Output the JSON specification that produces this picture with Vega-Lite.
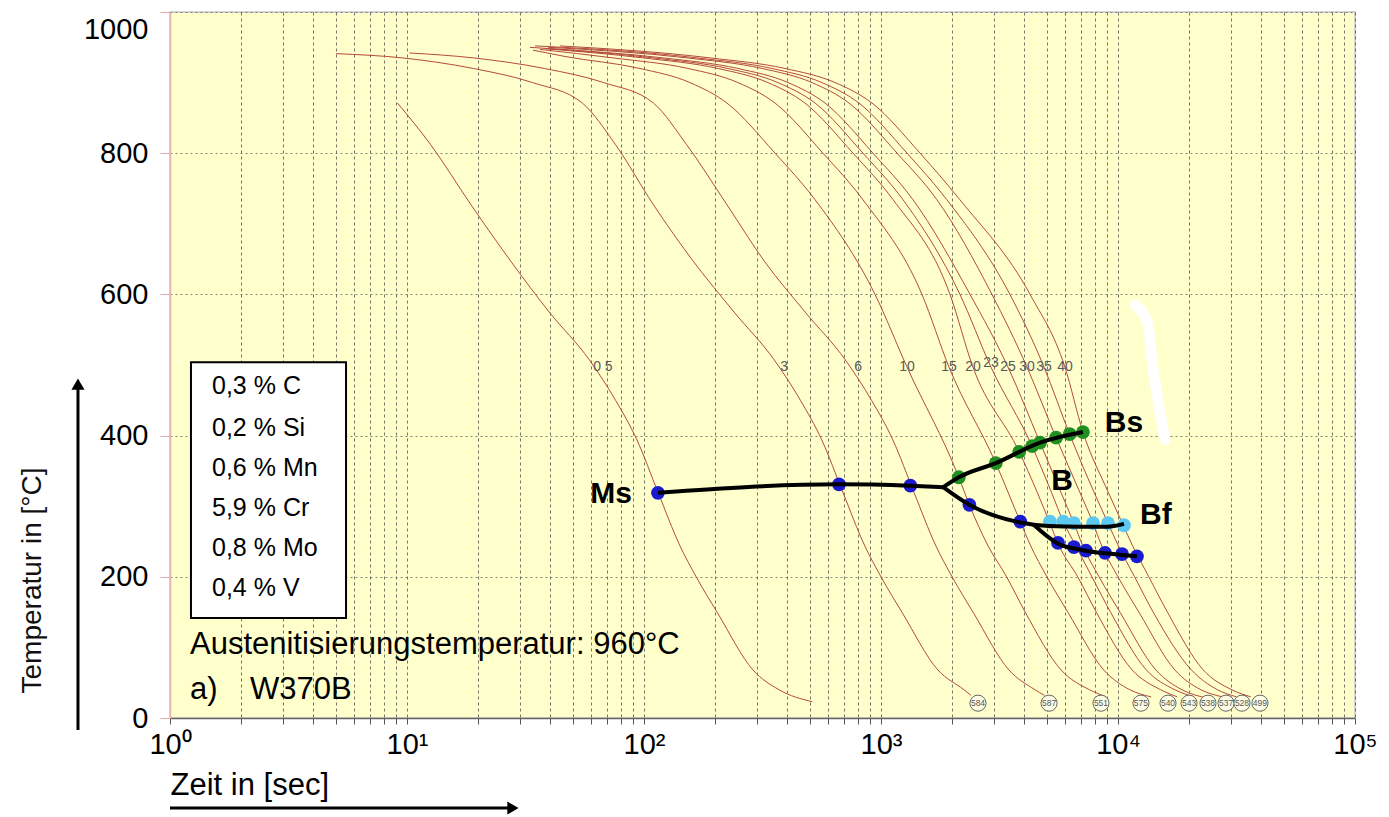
{
 "$schema": "https://vega.github.io/schema/vega-lite/v6.json",
 "width": 1185, "height": 706,
 "autosize": {"type": "none"},
 "padding": {"left": 170, "top": 12, "right": 34, "bottom": 99},
 "background": "white",
 "config": {"font": "Liberation Sans", "view": {"fill": "#FFFFCC", "stroke": "#c8c8c8", "strokeWidth": 1.5}},
 "datasets": {
  "curves": [
   {"c":"0.5","t":9.12,"T":871},{"c":"0.5","t":12.59,"T":812},{"c":"0.5","t":18.62,"T":727},{"c":"0.5","t":27.54,"T":646},{"c":"0.5","t":39.81,"T":575},{"c":"0.5","t":58.88,"T":507},{"c":"0.5","t":75.86,"T":450},{"c":"0.5","t":93.33,"T":394},{"c":"0.5","t":114.8,"T":319},{"c":"0.5","t":141.3,"T":245},{"c":"0.5","t":166,"T":200},{"c":"0.5","t":204.2,"T":149},{"c":"0.5","t":288.4,"T":68},{"c":"0.5","t":371.5,"T":40},{"c":"0.5","t":512.9,"T":23},
   {"c":"3","t":5.012,"T":941},{"c":"3","t":9.55,"T":935},{"c":"3","t":19.05,"T":920},{"c":"3","t":33.88,"T":900},{"c":"3","t":54.95,"T":871},{"c":"3","t":75.86,"T":812},{"c":"3","t":109.6,"T":727},{"c":"3","t":162.2,"T":646},{"c":"3","t":239.9,"T":575},{"c":"3","t":354.8,"T":507},{"c":"3","t":457.1,"T":450},{"c":"3","t":562.3,"T":394},{"c":"3","t":691.8,"T":319},{"c":"3","t":851.1,"T":245},{"c":"3","t":1000,"T":200},{"c":"3","t":1230,"T":149},{"c":"3","t":1738,"T":68},{"c":"3","t":2239,"T":40},{"c":"3","t":2399,"T":32},
   {"c":"6","t":10.23,"T":942},{"c":"6","t":19.05,"T":935},{"c":"6","t":38.02,"T":920},{"c":"6","t":67.61,"T":900},{"c":"6","t":109.6,"T":871},{"c":"6","t":151.4,"T":812},{"c":"6","t":223.9,"T":727},{"c":"6","t":323.6,"T":646},{"c":"6","t":478.6,"T":575},{"c":"6","t":707.9,"T":507},{"c":"6","t":912,"T":450},{"c":"6","t":1122,"T":394},{"c":"6","t":1380,"T":319},{"c":"6","t":1698,"T":245},{"c":"6","t":1995,"T":200},{"c":"6","t":2455,"T":149},{"c":"6","t":3467,"T":68},{"c":"6","t":4467,"T":40},{"c":"6","t":4898,"T":32},
   {"c":"10","t":34.0,"T":946},{"c":"10","t":46.4,"T":937},{"c":"10","t":96.2,"T":920},{"c":"10","t":156.3,"T":900},{"c":"10","t":223.9,"T":871},{"c":"10","t":357.3,"T":800},{"c":"10","t":527.2,"T":734},{"c":"10","t":943.6,"T":600},{"c":"10","t":1288,"T":497},{"c":"10","t":2130,"T":341},{"c":"10","t":2360,"T":302},{"c":"10","t":2818,"T":245},{"c":"10","t":3388,"T":200},{"c":"10","t":4074,"T":149},{"c":"10","t":5754,"T":68},{"c":"10","t":7586,"T":40},{"c":"10","t":8913,"T":30},
   {"c":"15","t":36.4,"T":947},{"c":"15","t":74.0,"T":935},{"c":"15","t":153.5,"T":920},{"c":"15","t":249.2,"T":900},{"c":"15","t":357.3,"T":871},{"c":"15","t":569.2,"T":800},{"c":"15","t":839.5,"T":734},{"c":"15","t":1489,"T":600},{"c":"15","t":1936,"T":497},{"c":"15","t":3050,"T":361},{"c":"15","t":3870,"T":278},{"c":"15","t":4266,"T":245},{"c":"15","t":5012,"T":200},{"c":"15","t":6166,"T":149},{"c":"15","t":8710,"T":68},{"c":"15","t":11220,"T":40},{"c":"15","t":13800,"T":30},
   {"c":"20","t":38.2,"T":948},{"c":"20","t":99.0,"T":935},{"c":"20","t":205.2,"T":920},{"c":"20","t":333.4,"T":900},{"c":"20","t":477.6,"T":871},{"c":"20","t":762.1,"T":800},{"c":"20","t":1125,"T":734},{"c":"20","t":1955,"T":600},{"c":"20","t":2443,"T":497},{"c":"20","t":3830,"T":377},{"c":"20","t":4571,"T":319},{"c":"20","t":5130,"T":278},{"c":"20","t":5623,"T":245},{"c":"20","t":6761,"T":200},{"c":"20","t":8128,"T":149},{"c":"20","t":11480,"T":68},{"c":"20","t":15140,"T":40},{"c":"20","t":17780,"T":30},
   {"c":"23","t":33.0,"T":950},{"c":"23","t":109.2,"T":935},{"c":"23","t":226.0,"T":920},{"c":"23","t":367.3,"T":900},{"c":"23","t":527.2,"T":871},{"c":"23","t":839.5,"T":800},{"c":"23","t":1239,"T":734},{"c":"23","t":2153,"T":600},{"c":"23","t":2911,"T":497},{"c":"23","t":4339,"T":385},{"c":"23","t":5248,"T":319},{"c":"23","t":5880,"T":278},{"c":"23","t":6607,"T":245},{"c":"23","t":7762,"T":200},{"c":"23","t":9333,"T":149},{"c":"23","t":13180,"T":68},{"c":"23","t":17380,"T":40},{"c":"23","t":20890,"T":30},
   {"c":"25","t":40.1,"T":948},{"c":"25","t":120.3,"T":935},{"c":"25","t":249.2,"T":920},{"c":"25","t":405.5,"T":900},{"c":"25","t":580.6,"T":871},{"c":"25","t":925.0,"T":800},{"c":"25","t":1365,"T":734},{"c":"25","t":2375,"T":600},{"c":"25","t":3434,"T":497},{"c":"25","t":4690,"T":390},{"c":"25","t":5754,"T":319},{"c":"25","t":6516,"T":276},{"c":"25","t":7079,"T":245},{"c":"25","t":8318,"T":200},{"c":"25","t":10230,"T":149},{"c":"25","t":14450,"T":68},{"c":"25","t":18620,"T":40},{"c":"25","t":23990,"T":28},
   {"c":"30","t":39.4,"T":950},{"c":"30","t":151.8,"T":935},{"c":"30","t":314.8,"T":920},{"c":"30","t":511.7,"T":900},{"c":"30","t":732.8,"T":871},{"c":"30","t":1169,"T":800},{"c":"30","t":1722,"T":734},{"c":"30","t":2938,"T":600},{"c":"30","t":4130,"T":497},{"c":"30","t":5480,"T":397},{"c":"30","t":6918,"T":319},{"c":"30","t":7848,"T":276},{"c":"30","t":8511,"T":245},{"c":"30","t":10000,"T":200},{"c":"30","t":12300,"T":149},{"c":"30","t":17380,"T":68},{"c":"30","t":22390,"T":40},{"c":"30","t":27540,"T":30},
   {"c":"35","t":34.7,"T":952},{"c":"35","t":167.4,"T":935},{"c":"35","t":346.7,"T":920},{"c":"35","t":563.6,"T":900},{"c":"35","t":807.2,"T":871},{"c":"35","t":1288,"T":800},{"c":"35","t":1897,"T":734},{"c":"35","t":3499,"T":600},{"c":"35","t":4874,"T":497},{"c":"35","t":6250,"T":402},{"c":"35","t":7943,"T":319},{"c":"35","t":9074,"T":276},{"c":"35","t":10000,"T":245},{"c":"35","t":11750,"T":200},{"c":"35","t":14130,"T":149},{"c":"35","t":20420,"T":68},{"c":"35","t":26300,"T":40},{"c":"35","t":31620,"T":30},
   {"c":"40","t":44.2,"T":952},{"c":"40","t":189.9,"T":935},{"c":"40","t":393.6,"T":920},{"c":"40","t":640.3,"T":900},{"c":"40","t":916.2,"T":871},{"c":"40","t":1462,"T":800},{"c":"40","t":2153,"T":734},{"c":"40","t":4254,"T":600},{"c":"40","t":5972,"T":497},{"c":"40","t":7115,"T":405},{"c":"40","t":9120,"T":319},{"c":"40","t":10520,"T":273},{"c":"40","t":11480,"T":245},{"c":"40","t":13490,"T":200},{"c":"40","t":16220,"T":149},{"c":"40","t":22910,"T":68},{"c":"40","t":30200,"T":40},{"c":"40","t":36310,"T":30}
  ],
  "blob": [{"t":11800,"T":585},{"t":13390,"T":557},{"t":13910,"T":507},{"t":14750,"T":450},{"t":15780,"T":394}],
  "curveLabels": [
   {"label":"0 5","t":67.1,"T":497},{"label":"3","t":390,"T":497},{"label":"6","t":800,"T":497},{"label":"10","t":1288,"T":497},{"label":"15","t":1936,"T":497},{"label":"20","t":2445,"T":497},{"label":"23","t":2911,"T":503},{"label":"25","t":3434,"T":497},{"label":"30","t":4130,"T":497},{"label":"35","t":4874,"T":497},{"label":"40","t":5975,"T":497}
  ],
  "hardness": [
   {"label":"584","t":2566,"T":21},{"label":"587","t":5117,"T":21},{"label":"551","t":8475,"T":21},{"label":"575","t":12500,"T":21},{"label":"540","t":16255,"T":21},{"label":"543","t":19940,"T":21},{"label":"538","t":23970,"T":21},{"label":"537","t":28570,"T":21},{"label":"528","t":33350,"T":21},{"label":"499","t":39720,"T":21}
  ],
  "points": [
   {"ph":"M","t":114.5,"T":319},{"ph":"M","t":665,"T":331},{"ph":"M","t":1330,"T":329},{"ph":"M","t":2360,"T":302},{"ph":"M","t":3870,"T":278},
   {"ph":"M","t":5585,"T":248},{"ph":"M","t":6516,"T":242},{"ph":"M","t":7325,"T":237},{"ph":"M","t":8817,"T":234},{"ph":"M","t":10400,"T":232},{"ph":"M","t":12020,"T":229},
   {"ph":"Bf","t":5164,"T":278},{"ph":"Bf","t":5880,"T":278},{"ph":"Bf","t":6516,"T":276},{"ph":"Bf","t":7848,"T":276},{"ph":"Bf","t":9074,"T":276},{"ph":"Bf","t":10600,"T":273},
   {"ph":"Bs","t":2130,"T":341},{"ph":"Bs","t":3050,"T":361},{"ph":"Bs","t":3830,"T":377},{"ph":"Bs","t":4339,"T":385},{"ph":"Bs","t":4690,"T":390},{"ph":"Bs","t":5480,"T":397},{"ph":"Bs","t":6250,"T":402},{"ph":"Bs","t":7115,"T":405}
  ],
  "lines": [
   {"s":"ms","i":1,"t":114.5,"T":319},{"s":"ms","i":2,"t":665,"T":331},{"s":"ms","i":3,"t":1330,"T":329},{"s":"ms","i":4,"t":1830,"T":327},
   {"s":"bs","i":1,"t":1830,"T":327},{"s":"bs","i":2,"t":2130,"T":341},{"s":"bs","i":3,"t":3050,"T":361},{"s":"bs","i":4,"t":4690,"T":390},{"s":"bs","i":5,"t":7115,"T":405},
   {"s":"bf","i":1,"t":1830,"T":327},{"s":"bf","i":2,"t":2360,"T":302},{"s":"bf","i":3,"t":3870,"T":277},{"s":"bf","i":4,"t":5100,"T":272},{"s":"bf","i":5,"t":7000,"T":271},{"s":"bf","i":6,"t":9000,"T":271},{"s":"bf","i":7,"t":10600,"T":275},
   {"s":"mf","i":1,"t":4400,"T":274},{"s":"mf","i":2,"t":5585,"T":247},{"s":"mf","i":3,"t":7325,"T":237},{"s":"mf","i":4,"t":10400,"T":231},{"s":"mf","i":5,"t":12020,"T":229}
  ],
  "phaseLabels": [{"label":"Ms","t":72.6,"T":317},{"label":"Bs","t":10590,"T":418},{"label":"B","t":5808,"T":336},{"label":"Bf","t":14450,"T":288}],
  "box": [{"t":1.226,"t2":5.53,"T":141.6,"T2":504}],
  "composition": [
   {"label":"0,3 % C","t":1.504,"T":470.3},{"label":"0,2 % Si","t":1.504,"T":410.8},{"label":"0,6 % Mn","t":1.504,"T":354.1},{"label":"5,9 % Cr","t":1.504,"T":297.5},{"label":"0,8 % Mo","t":1.504,"T":240.8},{"label":"0,4 % V","t":1.504,"T":184.1}
  ],
  "notes": [{"label":"Austenitisierungstemperatur: 960°C","t":1.214,"T":103.4},{"label":"a)","t":1.214,"T":39.7},{"label":"W370B","t":2.176,"T":39.7}],
  "arrows": [{"t":0.409,"T":-17,"t2":0.409,"T2":473},{"t":1,"T":-127.5,"t2":28,"T2":-127.5}],
  "heads": [{"dir":"up","t":0.409,"T":473},{"dir":"right","t":28,"T":-127.5}]
 },
 "encoding": {
  "x": {"field": "t", "type": "quantitative",
   "scale": {"type": "log", "domain": [1, 100000], "nice": false},
   "axis": {"title": "Zeit in [sec]",
    "values": [1,2,3,4,5,6,7,8,9,10,20,30,40,50,60,70,80,90,100,200,300,400,500,600,700,800,900,1000,2000,3000,4000,5000,6000,7000,8000,9000,10000,20000,30000,40000,50000,60000,70000,80000,90000,100000],
    "labelExpr": "datum.value == 1 ? '10⁰' : datum.value == 10 ? '10¹' : datum.value == 100 ? '10²' : datum.value == 1000 ? '10³' : datum.value == 10000 ? '10⁴' : datum.value == 100000 ? '10⁵' : ''",
    "grid": true, "gridColor": "#444444", "gridDash": [3, 3], "gridOpacity": 0.75, "gridWidth": 1,
    "tickSize": 6, "tickColor": "#555555", "domainColor": "#666666", "domainWidth": 1.5,
    "labelFontSize": 29, "labelColor": "#000000", "labelPadding": 6, "labelOverlap": false, "labelFlush": false,
    "titleFontSize": 31, "titleFontWeight": "normal", "titleColor": "#000000",
    "titleX": 0, "titleY": 67, "titleAlign": "left", "titleAnchor": "start", "titleBaseline": "middle"}},
  "y": {"field": "T", "type": "quantitative",
   "scale": {"domain": [0, 1000], "nice": false, "zero": false},
   "axis": {"title": "Temperatur in [°C]", "values": [0, 200, 400, 600, 800, 1000], "format": "d",
    "grid": true, "gridColor": "#666666", "gridDash": [2, 3], "gridOpacity": 0.8,
    "tickSize": 10, "tickColor": "#e3a9a9", "domainColor": "#e8b0b0", "domainWidth": 1.5,
    "labelFontSize": 29, "labelPadding": 12, "labelColor": "#000000",
    "labelOffset": {"condition": {"test": "datum.value == 1000", "value": 17}, "value": 0},
    "titleFontSize": 28, "titleFontWeight": "normal", "titleColor": "#111111",
    "titleX": -138, "titleY": 568, "titleAngle": -90, "titleAlign": "center", "titleBaseline": "middle"}}
 },
 "layer": [
  {"data": {"name": "curves"}, "mark": {"type": "line", "color": "#b44a3c", "strokeWidth": 1, "interpolate": "monotone"}, "encoding": {"detail": {"field": "c"}}},
  {"data": {"name": "blob"}, "mark": {"type": "line", "color": "#ffffff", "strokeWidth": 11, "strokeCap": "round", "interpolate": "monotone"}, "encoding": {}},
  {"data": {"name": "curveLabels"}, "mark": {"type": "text", "fontSize": 14, "color": "#5a5a5a", "baseline": "middle", "align": "center"}, "encoding": {"text": {"field": "label"}}},
  {"data": {"name": "hardness"}, "mark": {"type": "point", "shape": "circle", "size": 260, "filled": true, "fill": "#fdfde6", "stroke": "#666666", "strokeWidth": 1, "opacity": 1}, "encoding": {}},
  {"data": {"name": "hardness"}, "mark": {"type": "text", "fontSize": 8.5, "color": "#555555", "baseline": "middle", "align": "center"}, "encoding": {"text": {"field": "label"}}},
  {"data": {"name": "points"}, "mark": {"type": "point", "shape": "circle", "size": 190, "filled": true, "opacity": 1},
   "encoding": {"color": {"field": "ph", "type": "nominal", "scale": {"domain": ["M", "Bs", "Bf"], "range": ["#1a1ad0", "#1f8f1f", "#5cc8f0"]}, "legend": null}}},
  {"data": {"name": "lines"}, "mark": {"type": "line", "color": "#000000", "strokeWidth": 4, "interpolate": "monotone"}, "encoding": {"detail": {"field": "s"}, "order": {"field": "i"}}},
  {"data": {"name": "phaseLabels"}, "mark": {"type": "text", "fontSize": 30, "fontWeight": "bold", "color": "#000000", "baseline": "middle", "align": "center"}, "encoding": {"text": {"field": "label"}}},
  {"data": {"name": "box"}, "mark": {"type": "rect", "fill": "#ffffff", "stroke": "#000000", "strokeWidth": 2}, "encoding": {"x2": {"field": "t2"}, "y2": {"field": "T2"}}},
  {"data": {"name": "composition"}, "mark": {"type": "text", "fontSize": 25, "color": "#000000", "baseline": "middle", "align": "left"}, "encoding": {"text": {"field": "label"}}},
  {"data": {"name": "notes"}, "mark": {"type": "text", "fontSize": 31, "color": "#000000", "baseline": "middle", "align": "left"}, "encoding": {"text": {"field": "label"}}},
  {"data": {"name": "arrows"}, "mark": {"type": "rule", "color": "#000000", "strokeWidth": 3}, "encoding": {"x2": {"field": "t2"}, "y2": {"field": "T2"}}},
  {"data": {"name": "heads"}, "mark": {"type": "point", "filled": true, "size": 170, "color": "#000000", "opacity": 1},
   "encoding": {"shape": {"field": "dir", "type": "nominal", "scale": {"domain": ["up", "right"], "range": ["triangle-up", "triangle-right"]}, "legend": null}}}
 ]
}
